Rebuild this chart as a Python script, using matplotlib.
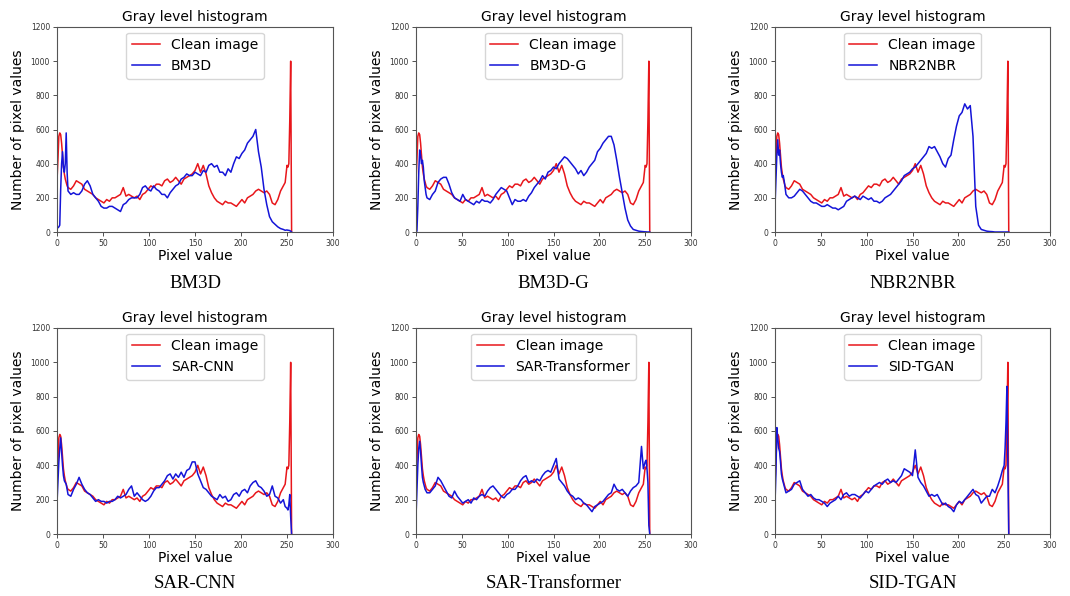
import matplotlib
matplotlib.use("Agg")
import matplotlib.pyplot as plt

pixel = [0, 1, 2, 3, 4, 5, 6, 7, 8, 9, 10, 11, 12,
         15, 18, 21, 24, 27, 30, 33, 36, 39, 42, 45, 48, 51, 54, 57, 60,
         63, 66, 69, 72, 75, 78, 81, 84, 87, 90, 93, 96, 99, 102, 105, 108,
         111, 114, 117, 120, 123, 126, 129, 132, 135, 138, 141, 144, 147, 150,
         153, 156, 159, 162, 165, 168, 171, 174, 177, 180, 183, 186, 189, 192,
         195, 198, 201, 204, 207, 210, 213, 216, 219, 222, 225, 228, 231, 234,
         237, 240,
         243, 246, 248, 250, 251, 252, 253, 254, 255]

clean = [300, 420, 560, 580, 570, 520, 450, 380, 340, 310, 290, 270, 260,
         250, 270, 300, 290, 280, 250, 240, 230, 220, 200, 190, 180, 170, 190, 180, 200,
         200, 210, 220, 260, 210, 220, 210, 200, 210, 190, 220, 230, 250, 270, 260, 280,
         280, 270, 300, 310, 290, 300, 320, 300, 280, 310, 320, 330, 340, 360,
         400, 350, 390, 340, 270, 230, 200, 180, 170, 160, 180, 170, 170, 160,
         150, 170, 190, 170, 200, 210, 220, 240, 250, 240, 230, 240, 220, 170,
         160, 190,
         240, 270, 290, 390, 380, 400, 650, 1000, 0]

bm3d = [20, 25, 30, 40, 250, 400, 470, 380, 350, 400, 580, 350, 240,
        220, 230, 220, 220, 240, 280, 300, 270, 220, 200, 180, 150, 140, 140, 150, 150,
        140, 130, 120, 160, 170, 190, 200, 200, 200, 220, 260, 270, 250, 240, 270, 250,
        240, 220, 220, 200, 230, 250, 270, 280, 310, 320, 340, 330, 330, 350,
        340, 330, 360, 350, 390, 400, 380, 390, 350, 350, 330, 370, 350, 400,
        440, 430, 460, 480, 520, 540, 560, 600, 470, 380, 250, 160, 90, 60,
        45, 30,
        20, 15, 10, 12, 10, 10, 8, 5, 0]

bm3d_g = [0, 5, 150, 350, 480, 450, 400, 420, 380, 300, 260, 220, 200,
          190, 220, 240, 290, 310, 320, 320, 280, 230, 200, 190, 180, 220, 190, 180, 170,
          160, 180, 170, 190, 180, 180, 170, 190, 220, 240, 260, 250, 240, 200, 160, 190,
          180, 180, 190, 180, 210, 230, 260, 280, 300, 330, 310, 350, 360, 380,
          370, 400, 420, 440, 430, 410, 390, 370, 340, 360, 330, 350, 380, 400,
          420, 470, 490, 520, 540, 560, 560, 510, 420, 320, 230, 140, 70, 35,
          15, 10,
          5, 3, 2, 1, 1, 0, 0, 0, 0]

nbr2nbr = [150, 300, 450, 540, 450, 480, 400, 350, 320, 330, 300, 260, 220,
           200, 200, 210, 230, 250, 240, 220, 200, 180, 170, 170, 160, 150, 150, 160, 150,
           140, 140, 130, 140, 150, 180, 190, 200, 210, 200, 190, 210, 200, 190, 200, 180,
           180, 170, 180, 200, 210, 220, 240, 260, 280, 300, 330, 340, 350, 370,
           380, 400, 420, 440, 460, 500, 490, 500, 470, 440, 400, 380, 430, 450,
           540, 620, 680, 700, 750, 720, 740, 560, 150, 40, 15, 10, 5, 3,
           2, 0,
           0, 0, 0, 0, 0, 0, 0, 0, 0]

sar_cnn = [180, 300, 420, 500, 560, 480, 400, 340, 310, 300, 290, 260, 230,
           220, 260, 290, 330, 290, 260, 240, 230, 210, 190, 200, 190, 190, 180, 190, 190,
           200, 220, 210, 220, 230, 260, 280, 220, 240, 220, 200, 190, 200, 220, 250, 270,
           270, 290, 310, 340, 350, 320, 350, 330, 360, 330, 370, 380, 420, 420,
           350, 310, 270, 260, 240, 220, 210, 200, 230, 210, 220, 190, 200, 230,
           240, 220, 250, 260, 240, 280, 300, 310, 280, 270, 250, 220, 230, 280,
           220, 210,
           180, 200, 160, 150, 140, 170, 230, 100, 0]

sar_transformer = [100, 250, 400, 500, 540, 480, 400, 330, 300, 280, 260, 250, 240,
                   240, 260, 280, 330, 310, 280, 250, 220, 210, 250, 220, 200, 180, 190, 200, 180,
                   210, 200, 220, 230, 220, 250, 270, 280, 260, 240, 220, 210, 230, 240, 260, 260,
                   280, 310, 330, 340, 300, 310, 300, 320, 310, 340, 360, 370, 360, 400,
                   440, 320, 300, 280, 250, 230, 220, 200, 210, 200, 180, 170, 150, 130,
                   160, 170, 180, 190, 210, 230, 240, 290, 260, 250, 260, 240, 220, 250,
                   270, 280,
                   300, 510, 380, 420, 430, 380, 300, 50, 0]

sid_tgan = [180, 350, 620, 560, 500, 480, 420, 350, 320, 300, 280, 260, 240,
            250, 260, 290, 300, 310, 260, 240, 220, 230, 210, 200, 200, 190, 180, 160, 180,
            190, 200, 220, 200, 230, 240, 220, 230, 230, 220, 210, 230, 250, 240, 260, 280,
            290, 300, 290, 310, 320, 300, 310, 300, 320, 340, 380, 370, 360, 340,
            490, 330, 300, 280, 250, 220, 230, 220, 230, 200, 170, 180, 160, 150,
            130, 170, 190, 180, 200, 220, 240, 260, 230, 220, 180, 200, 220, 220,
            260, 240,
            280, 330, 370, 400, 500, 650, 860, 420, 0]

methods = ["BM3D", "BM3D-G", "NBR2NBR", "SAR-CNN", "SAR-Transformer", "SID-TGAN"]
denoised = [bm3d, bm3d_g, nbr2nbr, sar_cnn, sar_transformer, sid_tgan]

W, H = 1070, 596
fig = plt.figure(figsize=(W / 100, H / 100), dpi=100)

lefts = [57, 416, 775]
rights = [333, 691, 1050]
tops = [27, 328]
bottoms = [232, 534]

for i, (name, ys) in enumerate(zip(methods, denoised)):
    r, c = divmod(i, 3)
    ax = fig.add_axes([lefts[c] / W, 1 - bottoms[r] / H,
                       (rights[c] - lefts[c]) / W, (bottoms[r] - tops[r]) / H])
    ax.plot(pixel, clean, color="#e8161b", lw=1.1, label="Clean image")
    ax.plot(pixel, ys, color="#1414d8", lw=1.1, label=name)
    ax.set_xlim(0, 300)
    ax.set_ylim(0, 1200)
    ax.set_xticks(range(0, 301, 50))
    ax.set_yticks(range(0, 1201, 200))
    ax.tick_params(labelsize=5.5, length=3, width=0.6, colors="#333333", pad=2)
    for s in ax.spines.values():
        s.set_color("#555555")
        s.set_linewidth(0.8)
    ax.set_title("Gray level histogram", fontsize=10, pad=4)
    ax.set_xlabel("Pixel value", fontsize=10, labelpad=1)
    ax.set_ylabel("Number of pixel values", fontsize=10, labelpad=4)
    ax.legend(loc="upper center", fontsize=10, borderaxespad=0.4)
    cx = (lefts[c] + rights[c]) / 2 / W
    cy = 1 - (283 if r == 0 else 583) / H
    fig.text(cx, cy, name, ha="center", va="center", fontsize=13.5,
             family="Liberation Serif")

fig.savefig("out.png", dpi=100)
